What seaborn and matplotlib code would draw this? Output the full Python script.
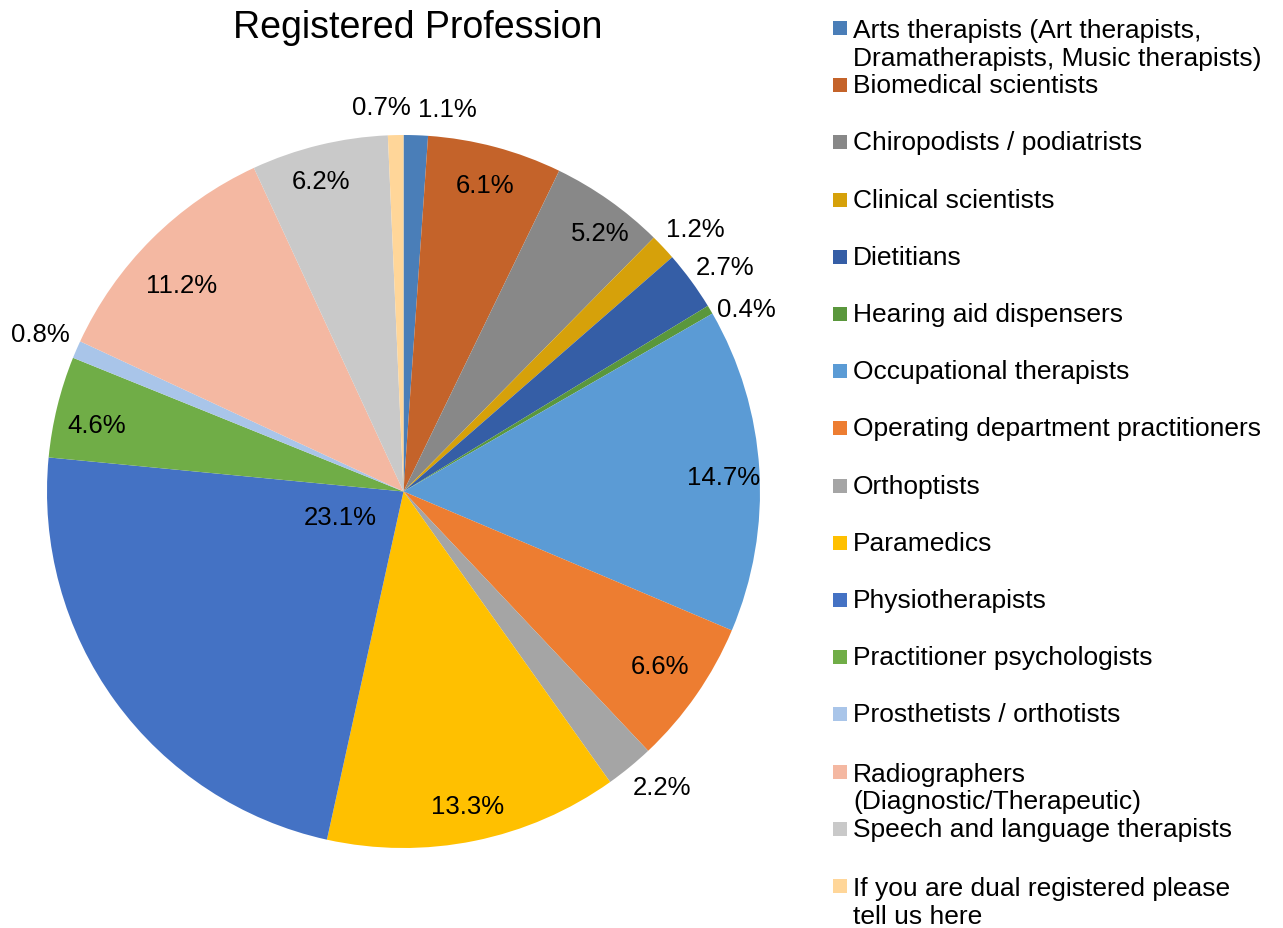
import numpy as np
import matplotlib
matplotlib.use("Agg")
import matplotlib.pyplot as plt
import matplotlib.patches as mpatches
import seaborn as sns

professions = [
    "Arts therapists (Art therapists,\nDramatherapists, Music therapists)",
    "Biomedical scientists",
    "Chiropodists / podiatrists",
    "Clinical scientists",
    "Dietitians",
    "Hearing aid dispensers",
    "Occupational therapists",
    "Operating department practitioners",
    "Orthoptists",
    "Paramedics",
    "Physiotherapists",
    "Practitioner psychologists",
    "Prosthetists / orthotists",
    "Radiographers\n(Diagnostic/Therapeutic)",
    "Speech and language therapists",
    "If you are dual registered please\ntell us here",
]
shares = [1.1, 6.1, 5.2, 1.2, 2.7, 0.4, 14.7, 6.6, 2.2, 13.3, 23.1, 4.6, 0.8, 11.2, 6.2, 0.7]
pct_labels = ["1.1%", "6.1%", "5.2%", "1.2%", "2.7%", "0.4%", "14.7%", "6.6%",
              "2.2%", "13.3%", "23.1%", "4.6%", "0.8%", "11.2%", "6.2%", "0.7%"]

colors = ["#4a7eb8", "#c4632a", "#888888", "#d6a10a", "#355ea6", "#5a973c",
          "#5b9bd5", "#ed7d31", "#a5a5a5", "#ffc000", "#4472c4", "#70ad47",
          "#a9c5e9", "#f4b8a2", "#c9c9c9", "#ffd699"]

# label placement (radius as fraction of pie radius, angle nudge in degrees)
label_r = [1.08, 0.89, 0.91, 1.10, 1.10, 1.09, 0.90, 0.87,
           1.10, 0.90, 0.19, 0.88, 1.11, 0.85, 0.90, 1.08]
label_dang = [-4.5, 0, -2, -1.3, -1.3, -2.7, -0.9, 0.5,
              1.8, 0, -14, 1.5, 0, 2, 1.2, 2]

sns.set_theme(style="white")
plt.rcParams["font.family"] = ["Liberation Sans", "DejaVu Sans"]

W, H = 1283, 929
fig = plt.figure(figsize=(W / 100, H / 100), dpi=100)
fig.patch.set_facecolor("white")
ax = fig.add_axes([47 / W, 79 / H, 713 / W, 715 / H])

pal = sns.color_palette(colors)
wedges, _ = ax.pie(shares, colors=pal, startangle=90, counterclock=False,
                   radius=1, wedgeprops=dict(linewidth=0))
ax.set_xlim(-1, 1)
ax.set_ylim(-1, 1)
ax.set_aspect("equal")
ax.axis("off")

for w, txt, rf, da in zip(wedges, pct_labels, label_r, label_dang):
    ang = np.deg2rad((w.theta1 + w.theta2) / 2 + da)
    ax.text(rf * np.cos(ang), rf * np.sin(ang), txt, ha="center", va="center",
            fontsize=18.5, color="#000000")

fig.text(418 / W, 1 - 28 / H, "Registered Profession", ha="center", va="center",
         fontsize=27, color="#000000")

# legend, drawn entry by entry
y0, dy = 29, 57.2
for i, (lab, c) in enumerate(zip(professions, pal)):
    yc = y0 + dy * i
    fig.add_artist(mpatches.Rectangle((833 / W, 1 - (yc + 7) / H), 14 / W, 14 / H,
                                      transform=fig.transFigure, facecolor=c,
                                      edgecolor="none"))
    nlines = lab.count("\n") + 1
    ytxt = yc + (nlines - 1) * 16
    fig.text(853 / W, 1 - ytxt / H, lab, ha="left", va="center", fontsize=19,
             color="#000000", linespacing=1.2)

plt.savefig("out.png", dpi=100)
plt.close()
